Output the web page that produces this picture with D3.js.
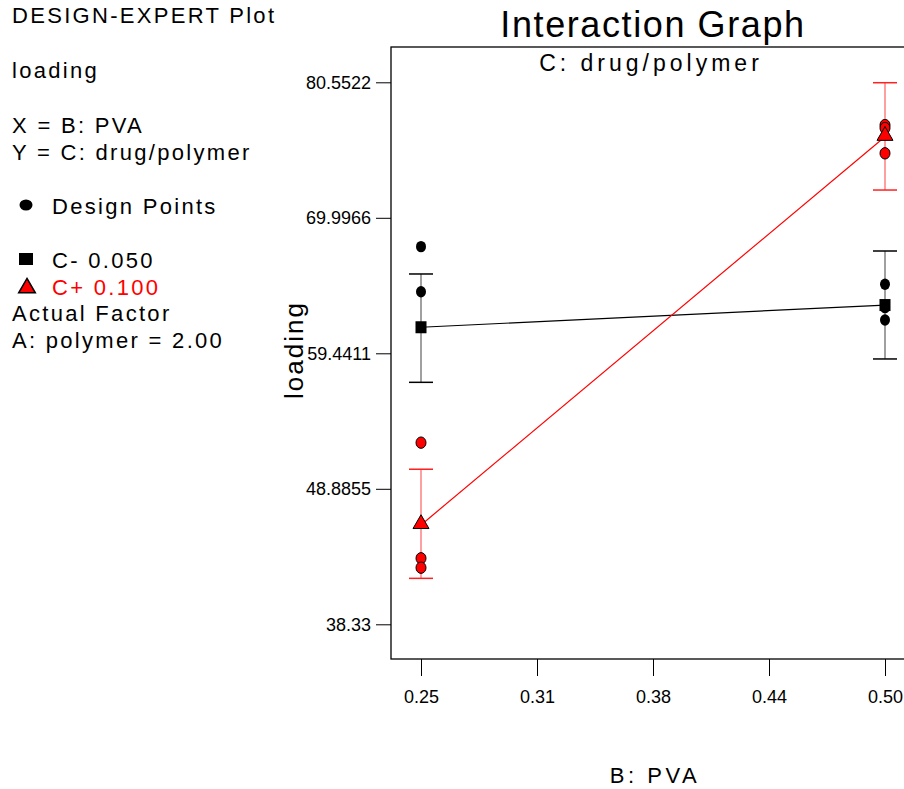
<!DOCTYPE html>
<meta charset="utf-8">
<style>
body { margin: 0; background: #fff; }
svg { font-family: "Liberation Sans", Arial, Helvetica, sans-serif; }
</style>
<body>
<div id="chart"></div>
<script src="https://d3js.org/d3.v7.min.js"></script>
<script>
var width = 904, height = 789;

// data
var xTicks = [0.25, 0.3125, 0.375, 0.4375, 0.50];
var xTickLabels = ["0.25", "0.31", "0.38", "0.44", "0.50"];
var yTicks = [38.33, 48.8855, 59.4411, 69.9966, 80.5522];
var levels = [0.25, 0.50];

var lowMeans = [61.47, 63.20];
var lowErrTop = [65.62, 67.41];
var lowErrBottom = [57.18, 59.00];
var lowPointsX = [0.25, 0.25, 0.50, 0.50, 0.50];
var lowPointsY = [67.75, 64.24, 64.82, 63.00, 62.04];

var highMeans = [46.07, 76.31];
var highErrTop = [50.41, 80.52];
var highErrBottom = [41.91, 72.16];
var highPointsX = [0.25, 0.25, 0.25, 0.50, 0.50, 0.50];
var highPointsY = [52.48, 43.47, 42.74, 77.22, 76.99, 75.02];

var svg = d3.select('#chart').append('svg')
  .attr('width', width)
  .attr('height', height);

var x = d3.scaleLinear().domain([0.25, 0.50]).range([421, 885]);
var y = d3.scaleLinear().domain([38.33, 80.5522]).range([624.3, 82.3]);

var frameLeft = 391, frameTop = 47, frameRight = 915, frameBottom = 659;

// frame
svg.append('rect')
  .attr('x', frameLeft).attr('y', frameTop)
  .attr('width', frameRight - frameLeft).attr('height', frameBottom - frameTop)
  .attr('fill', 'none').attr('stroke', '#000').attr('stroke-width', 1.3);

// y axis
var yAxis = d3.axisLeft(y).tickValues(yTicks).tickSize(15).tickPadding(5)
  .tickFormat(function(d) { return String(d); });
var gy = svg.append('g').attr('transform', 'translate(' + frameLeft + ',0)').call(yAxis);
gy.select('.domain').remove();
gy.selectAll('text').attr('font-size', 18).attr('fill', '#000')
  .attr('font-family', '"Liberation Sans", Arial, sans-serif');
gy.selectAll('line').attr('stroke', '#000');

// x axis
var xAxis = d3.axisBottom(x).tickValues(xTicks).tickSize(17).tickPadding(14)
  .tickFormat(function(d, i) { return xTickLabels[i]; });
var gx = svg.append('g').attr('transform', 'translate(0,' + frameBottom + ')').call(xAxis);
gx.select('.domain').remove();
gx.selectAll('text').attr('font-size', 18).attr('fill', '#000')
  .attr('font-family', '"Liberation Sans", Arial, sans-serif');
gx.selectAll('line').attr('stroke', '#000');

// titles
svg.append('text').attr('x', 653).attr('y', 37).attr('text-anchor', 'middle')
  .attr('font-size', 36).attr('letter-spacing', 1.6).text('Interaction Graph');
svg.append('text').attr('x', 651).attr('y', 71).attr('text-anchor', 'middle')
  .attr('font-size', 23).attr('letter-spacing', 4).text('C: drug/polymer');
svg.append('text').attr('transform', 'translate(303,350) rotate(-90)')
  .attr('text-anchor', 'middle').attr('font-size', 26).attr('letter-spacing', 2).text('loading');
svg.append('text').attr('x', 655).attr('y', 783).attr('text-anchor', 'middle')
  .attr('font-size', 22).attr('letter-spacing', 3.5).text('B: PVA');

// error bars
function errorBars(tops, bottoms, barColor, capColor) {
  var g = svg.append('g');
  levels.forEach(function(l, i) {
    g.append('line').attr('x1', x(l)).attr('x2', x(l))
      .attr('y1', y(tops[i])).attr('y2', y(bottoms[i]))
      .attr('stroke', barColor).attr('stroke-width', 1.5);
    [tops[i], bottoms[i]].forEach(function(v) {
      g.append('line').attr('x1', x(l) - 12).attr('x2', x(l) + 12)
        .attr('y1', y(v)).attr('y2', y(v))
        .attr('stroke', capColor).attr('stroke-width', 1.5);
    });
  });
}
errorBars(lowErrTop, lowErrBottom, '#808080', '#000');
errorBars(highErrTop, highErrBottom, '#ff8080', '#ff2020');

// interaction lines
var line = d3.line().x(function(d) { return x(d[0]); }).y(function(d) { return y(d[1]); });
svg.append('path').attr('d', line(d3.zip(levels, lowMeans)))
  .attr('fill', 'none').attr('stroke', '#000').attr('stroke-width', 1.2);
svg.append('path').attr('d', line(d3.zip(levels, highMeans)))
  .attr('fill', 'none').attr('stroke', '#ff0000').attr('stroke-width', 1.2);

// design points
svg.append('g').selectAll('ellipse').data(d3.zip(lowPointsX, lowPointsY)).join('ellipse')
  .attr('cx', function(d) { return x(d[0]); }).attr('cy', function(d) { return y(d[1]); })
  .attr('rx', 5).attr('ry', 5.7).attr('fill', '#000');
svg.append('g').selectAll('ellipse').data(d3.zip(highPointsX, highPointsY)).join('ellipse')
  .attr('cx', function(d) { return x(d[0]); }).attr('cy', function(d) { return y(d[1]); })
  .attr('rx', 5).attr('ry', 5.7).attr('fill', '#ff0000').attr('stroke', '#000').attr('stroke-width', 1);

// means
svg.append('g').selectAll('rect').data(d3.zip(levels, lowMeans)).join('rect')
  .attr('x', function(d) { return x(d[0]) - 5.5; }).attr('y', function(d) { return y(d[1]) - 6; })
  .attr('width', 11).attr('height', 12).attr('fill', '#000');
var tri = d3.symbol().type(d3.symbolTriangle).size(110);
svg.append('g').selectAll('path').data(d3.zip(levels, highMeans)).join('path')
  .attr('d', tri)
  .attr('transform', function(d) { return 'translate(' + x(d[0]) + ',' + (y(d[1]) - 1) + ')'; })
  .attr('fill', '#ff0000').attr('stroke', '#000').attr('stroke-width', 1);

// legend block on the left
var info = [
  { t: 'DESIGN-EXPERT Plot', x: 12, y: 23 },
  { t: 'loading', x: 12, y: 78 },
  { t: 'X = B: PVA', x: 12, y: 133 },
  { t: 'Y = C: drug/polymer', x: 12, y: 160 },
  { t: 'Design Points', x: 52, y: 214 },
  { t: 'C- 0.050', x: 52, y: 268 },
  { t: 'C+ 0.100', x: 52, y: 295, c: '#ff0000' },
  { t: 'Actual Factor', x: 12, y: 321 },
  { t: 'A: polymer = 2.00', x: 12, y: 348 }
];
svg.append('g').selectAll('text').data(info).join('text')
  .attr('x', function(d) { return d.x; }).attr('y', function(d) { return d.y; })
  .attr('font-size', 22).attr('letter-spacing', 2.3)
  .attr('fill', function(d) { return d.c || '#000'; })
  .text(function(d) { return d.t; });

svg.append('ellipse').attr('cx', 26).attr('cy', 205).attr('rx', 6.5).attr('ry', 5.5).attr('fill', '#000');
svg.append('rect').attr('x', 19).attr('y', 253).attr('width', 14).attr('height', 12).attr('fill', '#000');
svg.append('path').attr('d', d3.symbol().type(d3.symbolTriangle).size(120))
  .attr('transform', 'translate(27,288)')
  .attr('fill', '#ff0000').attr('stroke', '#000').attr('stroke-width', 1.5);
</script>
</body>
